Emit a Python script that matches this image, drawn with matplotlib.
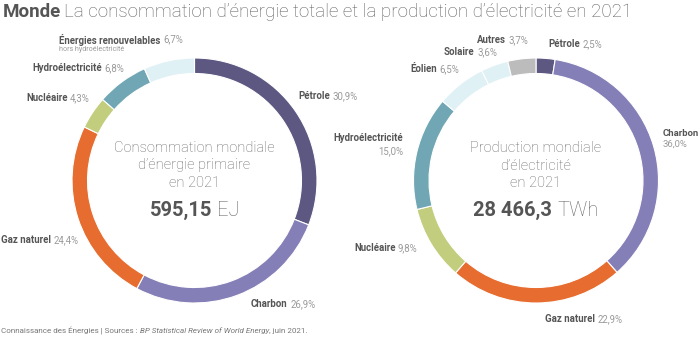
import matplotlib.pyplot as plt

# Data
energy_labels = ['Pétrole', 'Charbon', 'Gaz naturel', 'Nucléaire',
                 'Hydroélectricité', 'Énergies renouvelables']
energy_share = [30.9, 26.9, 24.4, 4.3, 6.8, 6.7]
energy_total = '595,15'

elec_labels = ['Pétrole', 'Charbon', 'Gaz naturel', 'Nucléaire',
               'Hydroélectricité', 'Éolien', 'Solaire', 'Autres']
elec_share = [2.5, 36.0, 22.9, 9.8, 15.0, 6.5, 3.6, 3.7]
elec_total = '28 466,3'

colors = {
    'Pétrole': '#5c5882',
    'Charbon': '#857fb7',
    'Gaz naturel': '#e66c2f',
    'Nucléaire': '#c2cd7d',
    'Hydroélectricité': '#71a7b4',
    'Énergies renouvelables': '#dff1f5',
    'Éolien': '#dff1f5',
    'Solaire': '#dff1f5',
    'Autres': '#bcbcbc',
}

DARK = '#555555'
LIGHT = '#9a9a9a'
CENTRE = '#666666'
W, H = 700, 337

plt.rcParams['font.family'] = ['Roboto', 'DejaVu Sans']

fig = plt.figure(figsize=(7, 3.37), dpi=100)
ax = fig.add_axes([0, 0, 1, 1])
renderer = fig.canvas.get_renderer()


def pct(v):
    return f'{v:.1f}%'.replace('.', ',')


def chain(x, y, parts, size=6.9):
    # draw several text pieces one after the other on one line (y in pixels from top)
    for txt, kw, gap in parts:
        t = ax.text(x, H - y, txt, fontsize=kw.pop('size', size), va='center', ha='left', **kw)
        x = t.get_window_extent(renderer).x1 + gap
    return x


def label(x, y, name, value):
    chain(x, y, [(name, dict(color=DARK, fontweight='bold'), 2.5),
                 (pct(value), dict(color=LIGHT), 0)])


def donut(cx, cy, labels, values):
    ax.pie(values, colors=[colors[l] for l in labels], center=(cx, H - cy),
           radius=122.5, startangle=90, counterclock=False,
           wedgeprops=dict(width=15.5, edgecolor='white', linewidth=0.8))


donut(194.5, 180.5, energy_labels, energy_share)
donut(536, 180.5, elec_labels, elec_share)

ax.set_xlim(0, W)
ax.set_ylim(0, H)
ax.set_aspect('equal')
ax.axis('off')

# left donut labels
e = dict(zip(energy_labels, energy_share))
label(59, 39.5, 'Énergies renouvelables', e['Énergies renouvelables'])
ax.text(59, H - 49.5, 'hors hydroélectricité', fontsize=5.1, color=LIGHT, va='center')
label(32, 68, 'Hydroélectricité', e['Hydroélectricité'])
label(26, 98, 'Nucléaire', e['Nucléaire'])
label(298, 96, 'Pétrole', e['Pétrole'])
label(1, 240, 'Gaz naturel', e['Gaz naturel'])
label(251, 304, 'Charbon', e['Charbon'])

# right donut labels
el = dict(zip(elec_labels, elec_share))
label(477, 40, 'Autres', el['Autres'])
label(548, 44, 'Pétrole', el['Pétrole'])
label(444, 52, 'Solaire', el['Solaire'])
label(410, 69, 'Éolien', el['Éolien'])
ax.text(403, H - 138, 'Hydroélectricité', fontsize=6.9, color=DARK, fontweight='bold',
        ha='right', va='center')
ax.text(403, H - 151, pct(el['Hydroélectricité']), fontsize=6.9, color=LIGHT,
        ha='right', va='center')
ax.text(663, H - 133, 'Charbon', fontsize=6.8, color=DARK, fontweight='bold', va='center')
ax.text(663, H - 144, pct(el['Charbon']), fontsize=6.8, color=LIGHT, va='center')
label(354, 248, 'Nucléaire', el['Nucléaire'])
label(545, 319, 'Gaz naturel', el['Gaz naturel'])


# centre texts
def centre(cx, lines, total, unit):
    for i, line in enumerate(lines):
        ax.text(cx, H - (148 + 17.5 * i), line, fontsize=10.5, color=CENTRE,
                fontweight='light', ha='center', va='center')
    a = ax.text(0, H - 210, total, fontsize=14.5, color=DARK, fontweight='bold',
                va='center')
    b = ax.text(0, H - 210, unit, fontsize=14.5, color=CENTRE, fontweight='light',
                va='center')
    wa = a.get_window_extent(renderer).width
    wb = b.get_window_extent(renderer).width
    x0 = cx - (wa + 5 + wb) / 2
    a.set_x(x0)
    b.set_x(x0 + wa + 5)


centre(194.5, ['Consommation mondiale', 'd’énergie primaire', 'en 2021'], energy_total, 'EJ')
centre(536, ['Production mondiale', 'd’électricité', 'en 2021'], elec_total, 'TWh')

# title and source
chain(3, 12, [('Monde', dict(color=DARK, fontweight='bold', size=13.5), 3),
              ('La consommation d’énergie totale et la production d’électricité en 2021',
               dict(color='#606060', fontweight='light', size=13.5), 0)])
chain(1, 331, [('Connaissance des Énergies | Sources : ', dict(color='#777777'), 0),
               ('BP Statistical Review of World Energy', dict(color='#777777', style='italic'), 0),
               (', juin 2021.', dict(color='#777777'), 0)], size=5.8)

fig.savefig('out.png', dpi=100)
